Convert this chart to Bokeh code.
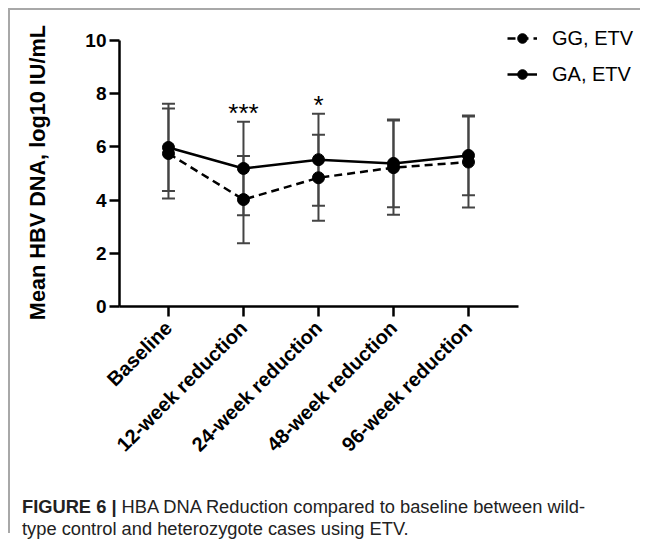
import math
from bokeh.plotting import figure
from bokeh.models import (Range1d, FixedTicker, Whisker, TeeHead, ColumnDataSource,
                          Legend, LegendItem, Div)
from bokeh.layouts import column, row
from bokeh.core.properties import value
from bokeh.embed import file_html
from bokeh.resources import INLINE

categories = ["Baseline", "12-week reduction", "24-week reduction",
              "48-week reduction", "96-week reduction"]
gg_mean = [5.75, 4.02, 4.84, 5.22, 5.43]
gg_sd = [1.69, 1.64, 1.62, 1.77, 1.71]
ga_mean = [5.98, 5.19, 5.52, 5.38, 5.68]
ga_sd = [1.64, 1.76, 1.73, 1.65, 1.50]
sig_labels = ["", "***", "*", "", ""]
y_ticks = [0, 2, 4, 6, 8, 10]
y_title = "Mean HBV DNA, log10 IU/mL"

FONT = "Liberation Sans"
x_pos = list(range(len(categories)))

# frame is 521 x 286 px; 75 px per category, 26.6 px per y unit
p = figure(frame_width=521, frame_height=286, output_backend="svg", toolbar_location=None,
           x_range=Range1d(-0.653, -0.653 + 521 / 75), y_range=Range1d(0, 10 + 20 / 26.6),
           min_border_left=109, min_border_top=10, min_border_right=0,
           min_border_bottom=164, margin=0)
p.outline_line_color = None
p.grid.visible = False
p.background_fill_color = "white"
p.border_fill_color = "white"

for ax in (p.xaxis[0], p.yaxis[0]):
    ax.axis_line_width = 2.5
    ax.axis_line_color = "black"
    ax.major_tick_line_width = 2.5
    ax.major_tick_line_color = "black"
    ax.major_tick_out = 10
    ax.major_tick_in = 0
    ax.minor_tick_line_color = None
    ax.major_label_text_font = FONT
    ax.major_label_text_font_style = "bold"
    ax.major_label_text_color = "black"

p.xaxis.bounds = (-0.653, 4.667)
p.xaxis.ticker = FixedTicker(ticks=x_pos)
p.xaxis.major_label_overrides = {i: c for i, c in zip(x_pos, categories)}
p.xaxis.major_label_orientation = math.pi / 4
p.xaxis.major_label_text_font_size = "20px"
p.xaxis.major_label_standoff = 8

p.yaxis.bounds = (0, 10)
p.yaxis.ticker = FixedTicker(ticks=y_ticks)
p.yaxis.major_label_text_font_size = "19px"
p.yaxis.major_label_standoff = 3
# trailing no-break spaces centre the label on the 0-10 axis rather than on the taller frame
p.yaxis.axis_label = y_title + "\u00a0\u00a0\u00a0"
p.yaxis.axis_label_text_font = FONT
p.yaxis.axis_label_text_font_style = "bold"
p.yaxis.axis_label_text_font_size = "21.7px"
p.yaxis.axis_label_text_color = "black"
p.yaxis.axis_label_standoff = 32

uppers = []
for mean, sd in ((gg_mean, gg_sd), (ga_mean, ga_sd)):
    up = [m + s for m, s in zip(mean, sd)]
    uppers.append(up)
    src = ColumnDataSource(dict(x=x_pos, upper=up,
                                lower=[m - s for m, s in zip(mean, sd)]))
    p.add_layout(Whisker(base="x", upper="upper", lower="lower", source=src,
                         line_color="#444444", line_width=2,
                         upper_head=TeeHead(size=13, line_color="#444444", line_width=2),
                         lower_head=TeeHead(size=13, line_color="#444444", line_width=2)))

gg_line = p.line(x_pos, gg_mean, line_color="black", line_width=2.5, line_dash="8 5")
gg_pts = p.scatter(x_pos, gg_mean, size=12, fill_color="black", line_color="black")
ga_line = p.line(x_pos, ga_mean, line_color="black", line_width=2.5)
ga_pts = p.scatter(x_pos, ga_mean, size=12, fill_color="black", line_color="black")

sig_x = [x for x, s in zip(x_pos, sig_labels) if s]
sig_y = [max(a, b) + 0.32 for a, b, s in zip(uppers[0], uppers[1], sig_labels) if s]
sig_t = [s for s in sig_labels if s]
p.text(sig_x, sig_y, text=sig_t, text_font=value(FONT), text_font_size="26px",
       text_align="center", text_baseline="alphabetic", text_color="black")

legend = Legend(items=[LegendItem(label="GG, ETV", renderers=[gg_line, gg_pts]),
                       LegendItem(label="GA, ETV", renderers=[ga_line, ga_pts])],
                location=(388, 220))
legend.padding = 0
legend.margin = 0
legend.border_line_color = None
legend.background_fill_alpha = 0
legend.glyph_width = 30
legend.glyph_height = 24
legend.label_height = 24
legend.spacing = 12
legend.label_standoff = 15
legend.label_text_font = FONT
legend.label_text_font_size = "20px"
legend.label_text_color = "black"
p.add_layout(legend)

caption = Div(
    text='<div style="padding-left:12px; padding-top:26px; '
         'font-family:\'Liberation Sans\', Arial, sans-serif; '
         'font-size:18.3px; line-height:22px; color:#222222; white-space:nowrap;">'
         '<b>FIGURE 6 |</b> HBA DNA Reduction compared to baseline between wild-<br>'
         'type control and heterozygote cases using ETV.</div>',
    width=630, height=63, margin=0)

border_col = "#a8a8a8"
top_line = Div(text="", width=630, height=2, margin=0,
               styles={"background-color": border_col})
left_line = Div(text="", width=2, height=525, margin=0,
                styles={"background-color": border_col})

layout = row(left_line, column(top_line, p, caption, margin=0), margin=(8, 0, 0, 8))

open("out.html", "w").write(file_html(layout, INLINE))
